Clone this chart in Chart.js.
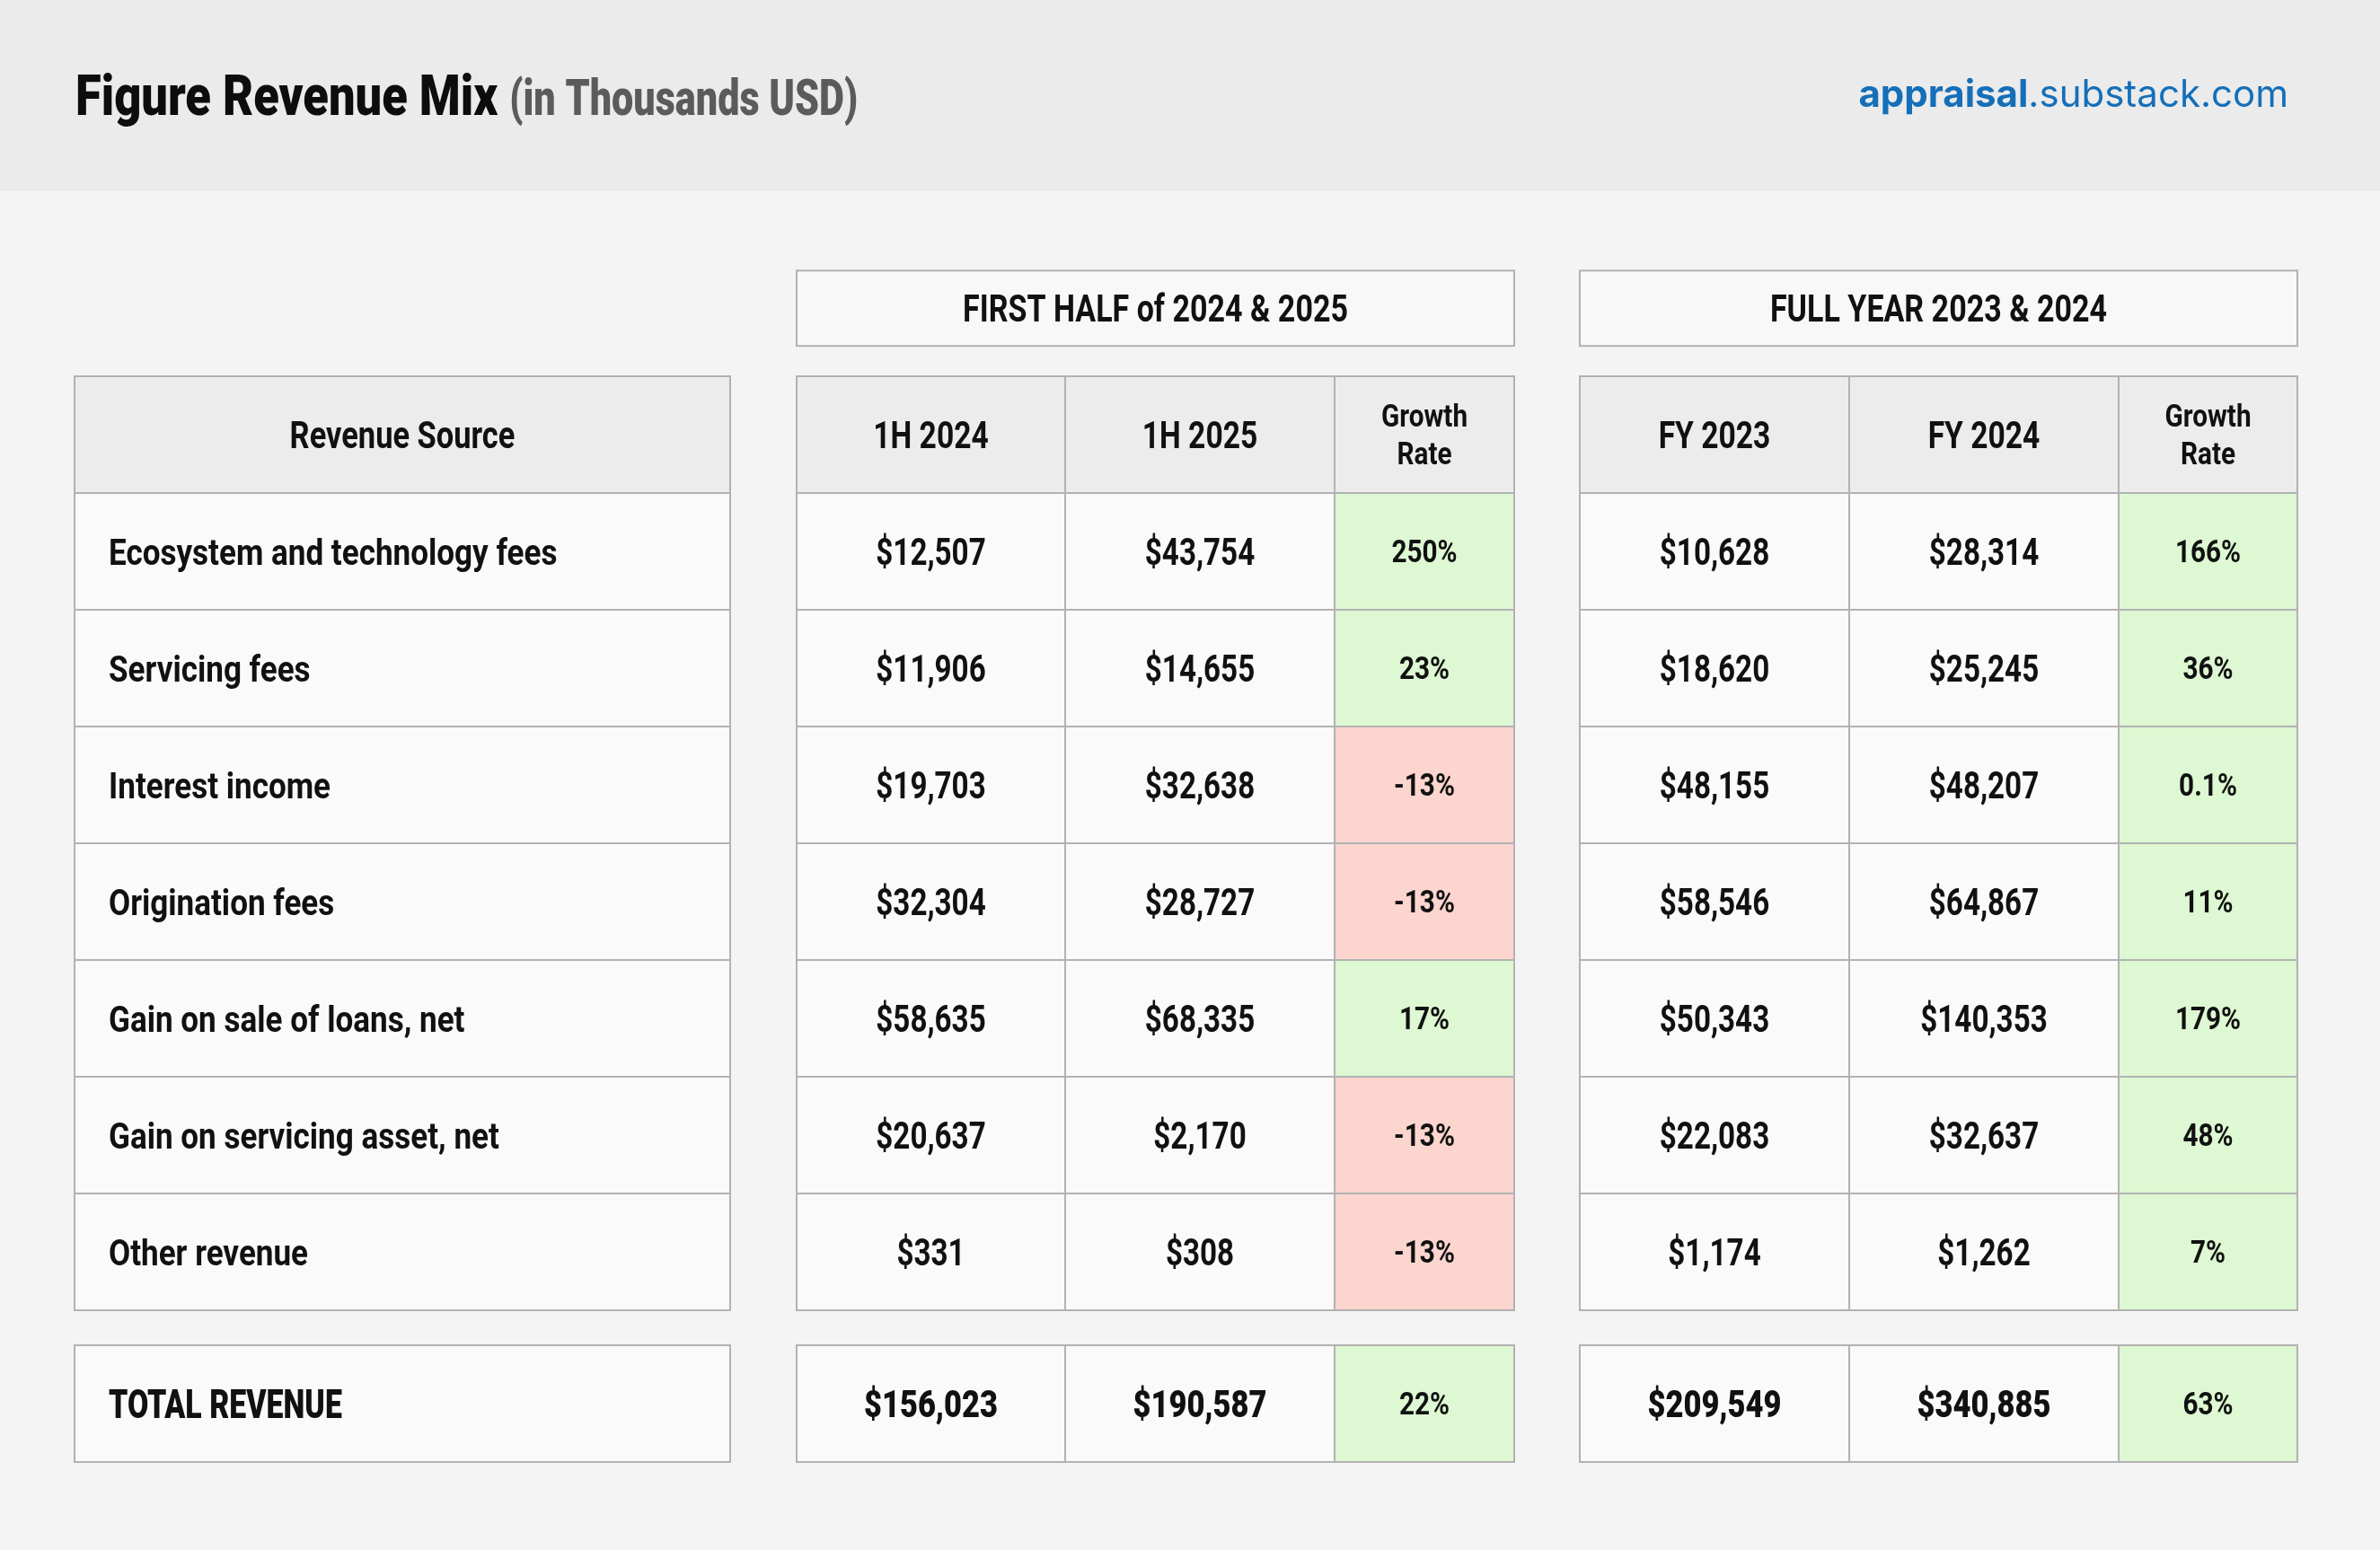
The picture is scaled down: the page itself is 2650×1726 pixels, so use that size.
<!DOCTYPE html>
<html>
<head>
<meta charset="utf-8">
<title>Figure Revenue Mix</title>
<script src="https://cdn.jsdelivr.net/npm/chart.js@4.4.1/dist/chart.umd.min.js"></script>
<style>
  html, body { margin: 0; padding: 0; background: #f4f4f4; }
  canvas { display: block; }
</style>
</head>
<body>
<canvas id="revenueTable" width="2650" height="1726"></canvas>
<script>
// Table data (thousands USD)
const sources = [
    'Ecosystem and technology fees',
    'Servicing fees',
    'Interest income',
    'Origination fees',
    'Gain on sale of loans, net',
    'Gain on servicing asset, net',
    'Other revenue'
];
const h1_2024 = [12507, 11906, 19703, 32304, 58635, 20637, 331];
const h1_2025 = [43754, 14655, 32638, 28727, 68335, 2170, 308];
const h1Growth = [250, 23, -13, -13, 17, -13, -13];
const fy2023 = [10628, 18620, 48155, 58546, 50343, 22083, 1174];
const fy2024 = [28314, 25245, 48207, 64867, 140353, 32637, 1262];
const fyGrowth = [166, 36, 0.1, 11, 179, 48, 7];

const totalLabel = 'TOTAL REVENUE';
const h1Totals = [156023, 190587];
const h1TotalGrowth = 22;
const fyTotals = [209549, 340885];
const fyTotalGrowth = 63;

const groupTitles = ['FIRST HALF of 2024 & 2025', 'FULL YEAR 2023 & 2024'];
const h1Headers = ['1H 2024', '1H 2025', 'Growth\nRate'];
const fyHeaders = ['FY 2023', 'FY 2024', 'Growth\nRate'];
const sourceHeader = 'Revenue Source';

// Layout (x in pixels on the x scale, y in row units on the y scale)
const layout = {
    labelCol: [83, 813],
    h1Cols: [887, 1186, 1486, 1686],
    fyCols: [1759, 2059, 2359, 2558],
    rowPx: 130,
    tableTop: 419,
    groupTop: -0.905,
    groupBottom: -0.26,
    totalTop: 8.3
};

const colors = {
    band: '#ebebeb',
    page: '#f4f4f4',
    cell: '#fafafa',
    head: '#ececec',
    border: '#b2b2b2',
    up: '#ddf8d2',
    down: '#fcd5cf',
    text: '#111111'
};

const money = v => '$' + v.toLocaleString('en-US');
const pct = v => v + '%';

// condensed look: draw Roboto squeezed horizontally
function drawText(ctx, str, x, y, size, weight, color, align, squeeze) {
    const sq = squeeze || 0.82;
    ctx.save();
    ctx.font = weight + ' ' + size + 'px Roboto, "Liberation Sans", sans-serif';
    ctx.fillStyle = color;
    ctx.textBaseline = 'alphabetic';
    ctx.textAlign = 'left';
    const w = ctx.measureText(str).width * sq;
    let left = x;
    if (align === 'center') left = x - w / 2;
    if (align === 'right') left = x - w;
    ctx.translate(left, y);
    ctx.scale(sq, 1);
    ctx.fillText(str, 0, 0);
    ctx.restore();
    return w;
}

const tablePlugin = {
    id: 'tablePlugin',
    beforeDraw(chart) {
        const ctx = chart.ctx;

        // page + top band
        ctx.save();
        ctx.fillStyle = colors.page;
        ctx.fillRect(0, 0, chart.width, chart.height);
        ctx.fillStyle = colors.band;
        ctx.fillRect(0, 0, chart.width, 213);
        ctx.restore();

        // title
        const tw = drawText(ctx, 'Figure Revenue Mix', 84, 128, 63, '900', '#0d0d0d', 'left', 0.833);
        drawText(ctx, '(in Thousands USD)', 84 + tw + 13, 128, 55, '900', '#5b5b5b', 'left', 0.785);

        // watermark
        ctx.save();
        ctx.fillStyle = '#156fb8';
        ctx.textBaseline = 'alphabetic';
        ctx.font = '400 42px Inter, "Open Sans", sans-serif';
        const rest = '.substack.com';
        const restW = ctx.measureText(rest).width;
        ctx.fillText(rest, 2548 - restW, 119);
        ctx.font = '700 42px Inter, "Open Sans", sans-serif';
        const bw = ctx.measureText('appraisal').width;
        ctx.fillText('appraisal', 2548 - restW - bw, 119);
        ctx.restore();
    },
    afterDraw(chart) {
        const ctx = chart.ctx;
        const xs = chart.scales.x;
        const ys = chart.scales.y;
        const X = v => xs.getPixelForValue(v);
        const Y = v => ys.getPixelForValue(v);

        function cell(x0, x1, r0, r1, fill) {
            const px0 = X(x0), px1 = X(x1), py0 = Y(r0), py1 = Y(r1);
            ctx.save();
            ctx.fillStyle = fill;
            ctx.fillRect(px0, py0, px1 - px0, py1 - py0);
            ctx.strokeStyle = colors.border;
            ctx.lineWidth = 2;
            ctx.strokeRect(px0, py0, px1 - px0, py1 - py0);
            ctx.restore();
        }
        function capMid(r0, r1, size) {
            return (Y(r0) + Y(r1)) / 2 + size * 0.355;
        }

        // group headers
        [layout.h1Cols, layout.fyCols].forEach((cols, g) => {
            cell(cols[0], cols[3], layout.groupTop, layout.groupBottom, '#f8f8f8');
            drawText(ctx, groupTitles[g], (X(cols[0]) + X(cols[3])) / 2,
                capMid(layout.groupTop, layout.groupBottom, 42), 42, 'bold', colors.text, 'center', 0.81);
        });

        // header row
        const lc = layout.labelCol;
        cell(lc[0], lc[1], 0, 1, colors.head);
        drawText(ctx, sourceHeader, (X(lc[0]) + X(lc[1])) / 2, capMid(0, 1, 42), 42, 'bold', colors.text, 'center', 0.82);
        [[layout.h1Cols, h1Headers], [layout.fyCols, fyHeaders]].forEach(([cols, heads]) => {
            heads.forEach((h, i) => {
                cell(cols[i], cols[i + 1], 0, 1, colors.head);
                const cx = (X(cols[i]) + X(cols[i + 1])) / 2;
                if (h.indexOf('\n') >= 0) {
                    const lines = h.split('\n');
                    const mid = capMid(0, 1, 35);
                    drawText(ctx, lines[0], cx, mid - 21, 35, 'bold', colors.text, 'center', 0.85);
                    drawText(ctx, lines[1], cx, mid + 21, 35, 'bold', colors.text, 'center', 0.85);
                } else {
                    drawText(ctx, h, cx, capMid(0, 1, 42), 42, 'bold', colors.text, 'center', 0.8);
                }
            });
        });

        // body rows
        function valueRow(r0, r1, cols, a, b, g, weight, sq) {
            cell(cols[0], cols[1], r0, r1, colors.cell);
            cell(cols[1], cols[2], r0, r1, colors.cell);
            cell(cols[2], cols[3], r0, r1, g < 0 ? colors.down : colors.up);
            const y = capMid(r0, r1, 42);
            drawText(ctx, money(a), (X(cols[0]) + X(cols[1])) / 2, y, 42, weight, colors.text, 'center', sq);
            drawText(ctx, money(b), (X(cols[1]) + X(cols[2])) / 2, y, 42, weight, colors.text, 'center', sq);
            drawText(ctx, pct(g), (X(cols[2]) + X(cols[3])) / 2, capMid(r0, r1, 35), 35, 'bold', colors.text, 'center', 0.85);
        }

        sources.forEach((name, i) => {
            const r0 = 1 + i, r1 = 2 + i;
            cell(lc[0], lc[1], r0, r1, colors.cell);
            drawText(ctx, name, X(lc[0]) + 38, capMid(r0, r1, 41), 41, 'bold', colors.text, 'left', 0.855);
            valueRow(r0, r1, layout.h1Cols, h1_2024[i], h1_2025[i], h1Growth[i], 'bold', 0.79);
            valueRow(r0, r1, layout.fyCols, fy2023[i], fy2024[i], fyGrowth[i], 'bold', 0.79);
        });

        // totals
        const t0 = layout.totalTop, t1 = layout.totalTop + 1;
        cell(lc[0], lc[1], t0, t1, colors.cell);
        drawText(ctx, totalLabel, X(lc[0]) + 38, capMid(t0, t1, 44), 44, '900', colors.text, 'left', 0.77);
        valueRow(t0, t1, layout.h1Cols, h1Totals[0], h1Totals[1], h1TotalGrowth, '900', 0.82);
        valueRow(t0, t1, layout.fyCols, fyTotals[0], fyTotals[1], fyTotalGrowth, '900', 0.82);
    }
};

const ctx = document.getElementById('revenueTable').getContext('2d');
const revenueTable = new Chart(ctx, {
    type: 'scatter',
    data: { datasets: [] },
    options: {
        responsive: false,
        devicePixelRatio: 1,
        animation: false,
        layout: { padding: 0 },
        plugins: {
            legend: { display: false },
            tooltip: { enabled: false }
        },
        scales: {
            x: { type: 'linear', display: false, min: 0, max: 2650 },
            y: {
                type: 'linear',
                display: false,
                reverse: true,
                min: -layout.tableTop / layout.rowPx,
                max: (1726 - layout.tableTop) / layout.rowPx
            }
        }
    },
    plugins: [tablePlugin]
});
</script>
</body>
</html>
